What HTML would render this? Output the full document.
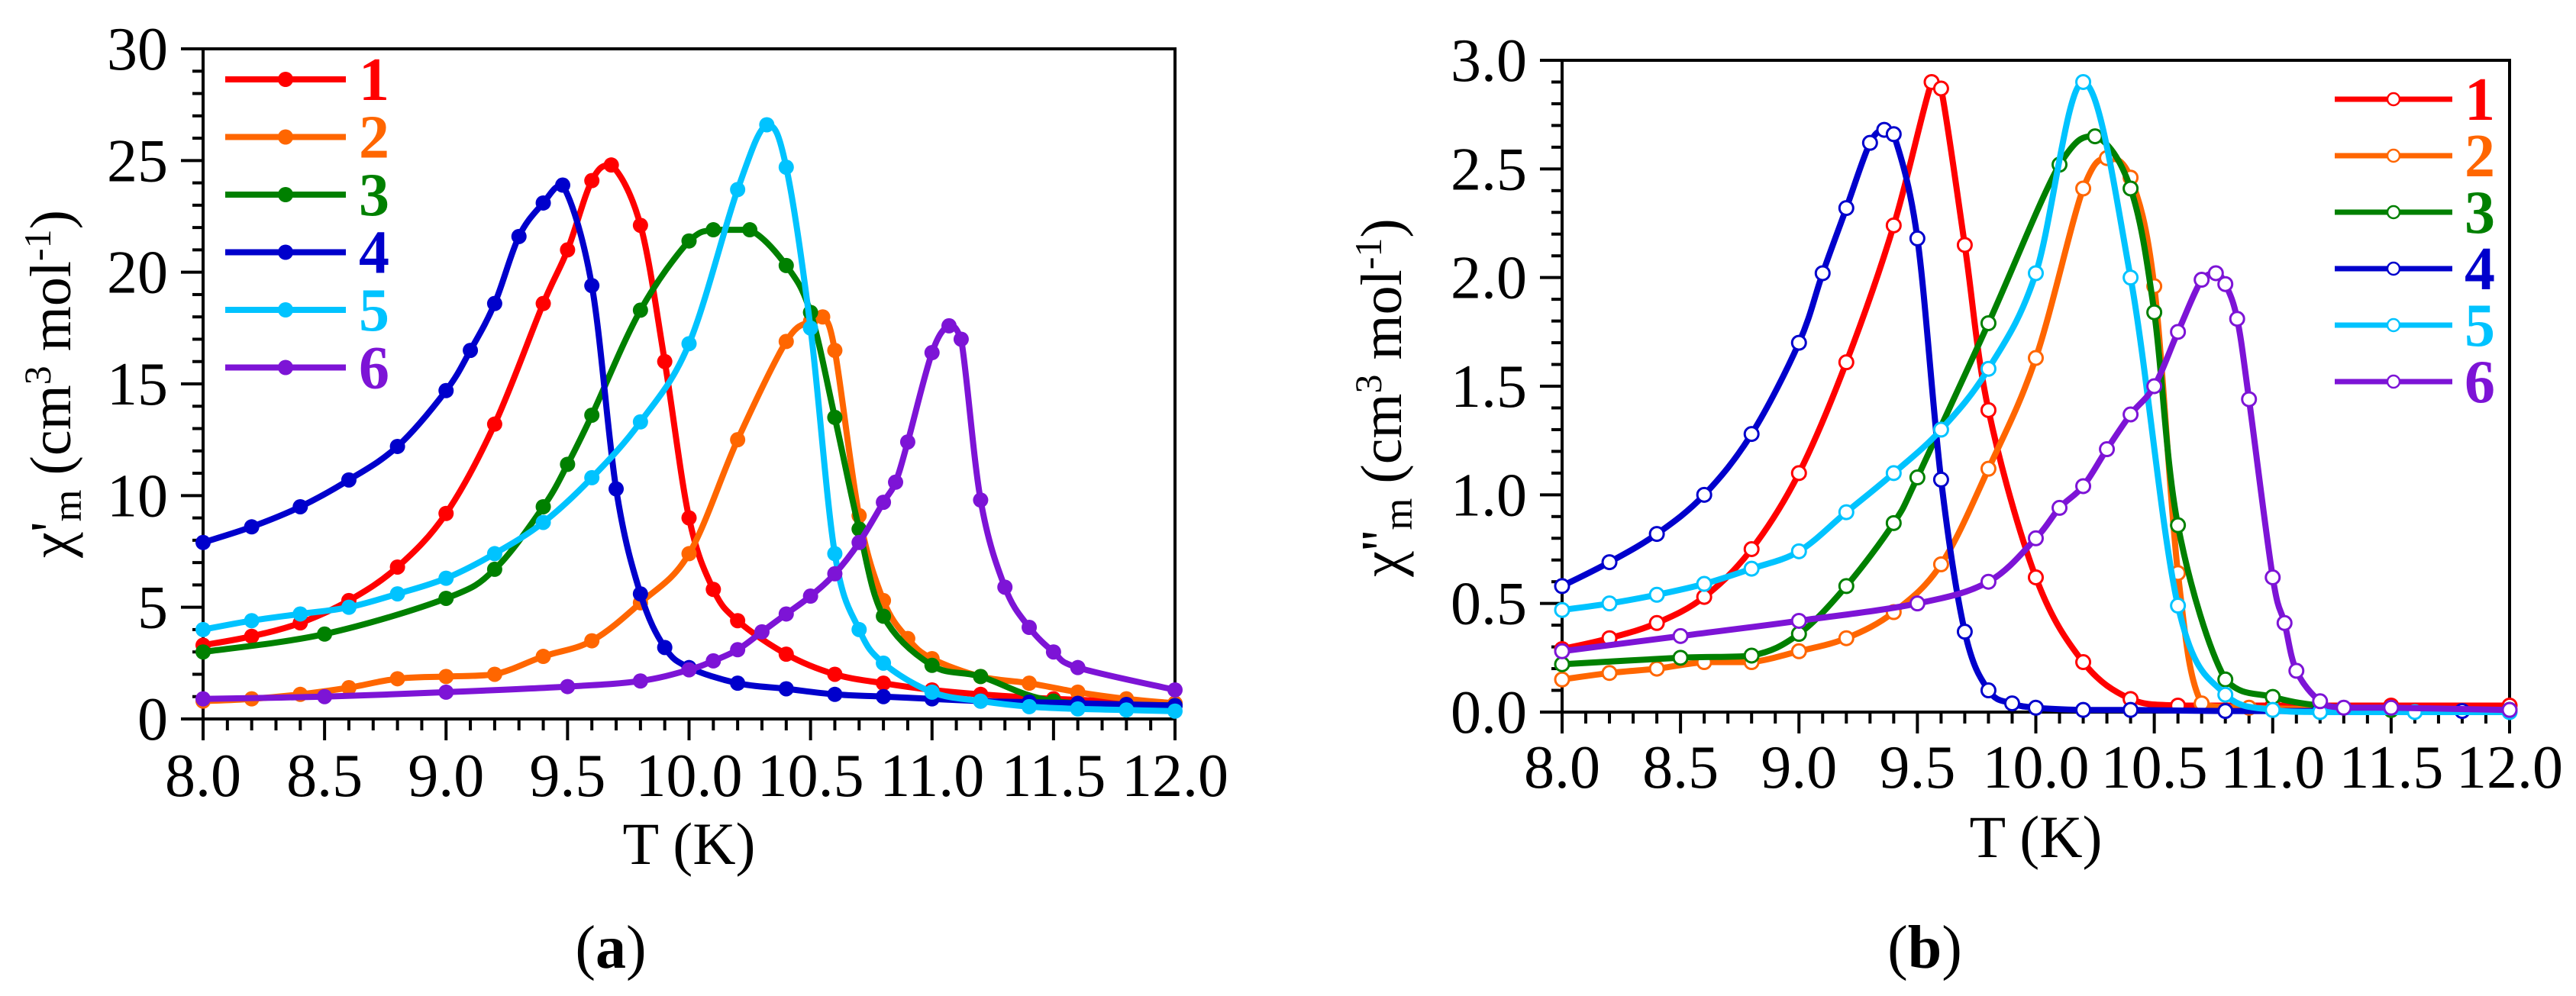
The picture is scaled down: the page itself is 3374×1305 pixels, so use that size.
<!DOCTYPE html>
<html><head><meta charset="utf-8"><style>
html,body{margin:0;padding:0;background:#fff;}
svg{display:block;}
svg text{font-family:"Liberation Serif","Times New Roman",Times,serif;}
</style></head>
<body>
<svg id="fig" width="3374" height="1305" viewBox="0 0 3374 1305" xmlns="http://www.w3.org/2000/svg" font-family="Liberation Serif, Times New Roman, serif">
<rect width="3374" height="1305" fill="#fff"/>
<g id="panelA"></g>
<g id="panelB"></g>
</svg>
<script>
// ---- shared ----
const seriesNames = ["1","2","3","4","5","6"];
const seriesColors = ["#ff0000","#ff6600","#008000","#0000cc","#00c3ff","#7d14d6"];
const xTicks = ["8.0","8.5","9.0","9.5","10.0","10.5","11.0","11.5","12.0"];
const yTicksA = ["0","5","10","15","20","25","30"];
const yTicksB = ["0.0","0.5","1.0","1.5","2.0","2.5","3.0"];

// ---- data (panel a: chi') ----
const a1T = [8.0,8.2,8.4,8.6,8.8,9.0,9.2,9.4,9.5,9.6,9.68,9.8,9.9,10.0,10.1,10.2,10.4,10.6,10.8,11.0,11.2,11.5,12.0];
const a1V = [3.3,3.7,4.3,5.3,6.8,9.2,13.2,18.6,21.0,24.1,24.8,22.1,16.0,9.0,5.8,4.4,2.9,2.0,1.6,1.3,1.1,0.9,0.7];
const a2T = [8.0,8.2,8.4,8.6,8.8,9.0,9.2,9.4,9.6,9.8,10.0,10.2,10.4,10.5,10.55,10.6,10.7,10.8,10.9,11.0,11.2,11.4,11.6,11.8,12.0];
const a2V = [0.8,0.9,1.1,1.4,1.8,1.9,2.0,2.8,3.5,5.2,7.4,12.5,16.9,17.8,18.0,16.5,9.1,5.3,3.6,2.7,1.9,1.6,1.2,0.9,0.7];
const a3T = [8.0,8.5,9.0,9.2,9.4,9.5,9.6,9.8,10.0,10.1,10.25,10.4,10.5,10.6,10.7,10.8,11.0,11.2,11.5,12.0];
const a3V = [3.0,3.8,5.4,6.7,9.5,11.4,13.6,18.3,21.4,21.9,21.9,20.3,18.2,13.5,8.5,4.6,2.4,1.9,0.8,0.6];
const a4T = [8.0,8.2,8.4,8.6,8.8,9.0,9.1,9.2,9.3,9.4,9.48,9.6,9.7,9.8,9.9,10.0,10.2,10.4,10.6,10.8,11.0,11.2,11.4,11.6,11.8,12.0];
const a4V = [7.9,8.6,9.5,10.7,12.2,14.7,16.5,18.6,21.6,23.1,23.9,19.4,10.3,5.6,3.2,2.3,1.6,1.35,1.1,1.0,0.9,0.8,0.75,0.7,0.65,0.6];
const a5T = [8.0,8.2,8.4,8.6,8.8,9.0,9.2,9.4,9.6,9.8,10.0,10.2,10.32,10.4,10.5,10.6,10.7,10.8,11.0,11.2,11.4,11.6,11.8,12.0];
const a5V = [4.0,4.4,4.7,5.0,5.6,6.3,7.4,8.8,10.8,13.3,16.8,23.7,26.6,24.7,17.5,7.4,4.0,2.5,1.2,0.8,0.55,0.45,0.4,0.35];
const a6T = [8.0,8.5,9.0,9.5,9.8,10.0,10.1,10.2,10.3,10.4,10.5,10.6,10.7,10.8,10.85,10.9,11.0,11.07,11.12,11.2,11.3,11.4,11.5,11.6,12.0];
const a6V = [0.9,1.0,1.2,1.45,1.7,2.2,2.6,3.1,3.9,4.7,5.5,6.5,7.9,9.7,10.6,12.4,16.4,17.6,17.0,9.8,5.9,4.1,3.0,2.3,1.3];

// ---- data (panel b: chi'') ----
const b1T = [8.0,8.2,8.4,8.6,8.8,9.0,9.2,9.4,9.56,9.6,9.7,9.8,10.0,10.2,10.4,10.6,11.0,11.5,12.0];
const b1V = [0.29,0.34,0.41,0.53,0.75,1.1,1.61,2.24,2.9,2.87,2.15,1.39,0.62,0.23,0.06,0.03,0.03,0.03,0.03];
const b2T = [8.0,8.2,8.4,8.6,8.8,9.0,9.2,9.4,9.6,9.8,10.0,10.2,10.3,10.4,10.5,10.6,10.7,10.9,11.5,12.0];
const b2V = [0.15,0.18,0.2,0.23,0.23,0.28,0.34,0.46,0.68,1.12,1.63,2.41,2.55,2.46,1.96,0.64,0.04,0.02,0.01,0.01];
const b3T = [8.0,8.5,8.8,9.0,9.2,9.4,9.5,9.8,10.1,10.25,10.4,10.5,10.6,10.8,11.0,11.2,11.5,12.0];
const b3V = [0.22,0.25,0.26,0.36,0.58,0.87,1.08,1.79,2.52,2.65,2.41,1.84,0.86,0.15,0.07,0.03,0.01,0.01];
const b4T = [8.0,8.2,8.4,8.6,8.8,9.0,9.1,9.2,9.3,9.36,9.4,9.5,9.6,9.7,9.8,9.9,10.0,10.2,10.4,10.8,11.2,11.8,12.0];
const b4V = [0.58,0.69,0.82,1.0,1.28,1.7,2.02,2.32,2.62,2.68,2.66,2.18,1.07,0.37,0.1,0.04,0.02,0.01,0.01,0.005,0.005,0.005,0.005];
const b5T = [8.0,8.2,8.4,8.6,8.8,9.0,9.2,9.4,9.6,9.8,10.0,10.2,10.4,10.6,10.8,11.0,11.2,11.6,12.0];
const b5V = [0.47,0.5,0.54,0.59,0.66,0.74,0.92,1.1,1.3,1.58,2.02,2.9,2.0,0.49,0.08,0.01,0.0,0.0,0.0];
const b6T = [8.0,8.5,9.0,9.5,9.8,10.0,10.1,10.2,10.3,10.4,10.5,10.6,10.7,10.76,10.8,10.85,10.9,11.0,11.05,11.1,11.2,11.3,11.5,12.0];
const b6V = [0.28,0.35,0.42,0.5,0.6,0.8,0.94,1.04,1.21,1.37,1.5,1.75,1.99,2.02,1.97,1.81,1.44,0.62,0.41,0.19,0.05,0.02,0.02,0.01];

const NS = "http://www.w3.org/2000/svg";
const FONT = "Liberation Serif, Times New Roman, serif";
function mk(tag, attrs, parent){
  const e = document.createElementNS(NS, tag);
  for (const k in attrs) e.setAttribute(k, attrs[k]);
  if (tag === "text") e.setAttribute("font-family", FONT);
  parent.appendChild(e);
  return e;
}
function clamp(v, a, b){ const lo = Math.min(a,b), hi = Math.max(a,b); return Math.max(lo, Math.min(hi, v)); }
function smoothPath(pts){
  let d = "M" + pts[0][0].toFixed(1) + "," + pts[0][1].toFixed(1);
  for (let i = 0; i < pts.length - 1; i++){
    const p0 = pts[Math.max(0,i-1)], p1 = pts[i], p2 = pts[i+1], p3 = pts[Math.min(pts.length-1,i+2)];
    const t = 0.17;
    const c1x = p1[0] + (p2[0]-p0[0])*t, c1y = clamp(p1[1] + (p2[1]-p0[1])*t, p1[1], p2[1]);
    const c2x = p2[0] - (p3[0]-p1[0])*t, c2y = clamp(p2[1] - (p3[1]-p1[1])*t, p1[1], p2[1]);
    d += " C" + c1x.toFixed(1)+","+c1y.toFixed(1)+" "+c2x.toFixed(1)+","+c2y.toFixed(1)+" "+p2[0].toFixed(1)+","+p2[1].toFixed(1);
  }
  return d;
}

function drawPanel(cfg){
  const g = document.getElementById(cfg.id);
  const L = cfg.L, R = cfg.R, T = cfg.T, B = cfg.B;
  const xs = v => L + (v - 8) / 4 * (R - L);
  const ys = v => B - v / cfg.ymax * (B - T);
  const frame = mk("rect", {x:L, y:T, width:R-L, height:B-T, fill:"none", stroke:"#000", "stroke-width":4}, g);
  
  
  for (let i = 0; i <= 40; i++){
    const v = 8 + i * 0.1;
    const major = i % 5 === 0;
    const tk = mk("line", {x1:xs(v), x2:xs(v), y1:B, y2:B + (major ? 28 : 15), stroke:"#000", "stroke-width":4}, g);
    
    
  }
  xTicks.forEach(s => {
    const t = mk("text", {x:xs(parseFloat(s)), y:B + cfg.xlabOff, "font-size":80, "text-anchor":"middle", fill:"#000"}, g);
    t.textContent = s;
    
    
  });
  const nMinor = 30;
  for (let i = 0; i <= nMinor; i++){
    const v = cfg.ymax * i / nMinor;
    const major = i % 5 === 0;
    const tk = mk("line", {x1:L - (major ? 29 : 14), x2:L, y1:ys(v), y2:ys(v), stroke:"#000", "stroke-width":4}, g);
    
    
  }
  cfg.yTicks.forEach(s => {
    const t = mk("text", {x:L - 46, y:ys(parseFloat(s)) + 27, "font-size":80, "text-anchor":"end", fill:"#000"}, g);
    t.textContent = s;
    
    
  });
  const xt = mk("text", {x:(L+R)/2, y:B + 190, "font-size":78, "text-anchor":"middle", fill:"#000"}, g);
  xt.textContent = "T (K)";
  
  
  const yt = mk("text", {transform:"translate(" + cfg.ytX + "," + cfg.ytY + ") rotate(-90)", "font-size":76, "text-anchor":"middle", fill:"#000"}, g);
  
  
  const sp1 = mk("tspan", {}, yt); sp1.textContent = cfg.chi;
  const sp2 = mk("tspan", {"font-size":54, dy:14}, yt); sp2.textContent = "m";
  const sp3 = mk("tspan", {dy:-14}, yt); sp3.textContent = " (cm";
  const sp4 = mk("tspan", {"font-size":50, dy:-26}, yt); sp4.textContent = "3";
  const sp5 = mk("tspan", {dy:26}, yt); sp5.textContent = " mol";
  const sp6 = mk("tspan", {"font-size":50, dy:-26}, yt); sp6.textContent = "-1";
  const sp7 = mk("tspan", {dy:26}, yt); sp7.textContent = ")";
  const pl = mk("text", {x:cfg.letterX, y:1268, "font-size":80, "text-anchor":"middle", fill:"#000"}, g);
  
  
  const q1 = mk("tspan", {}, pl); q1.textContent = "(";
  const q2 = mk("tspan", {"font-weight":"bold"}, pl); q2.textContent = cfg.letter;
  const q3 = mk("tspan", {}, pl); q3.textContent = ")";
  cfg.data.forEach((sd, k) => {
    const sg = mk("g", {}, g);
    
    
    const pts = sd[0].map((t, i) => [xs(t), ys(sd[1][i])]);
    const ln = mk("path", {d:smoothPath(pts), fill:"none", stroke:seriesColors[k], "stroke-width":8, "stroke-linejoin":"round", "stroke-linecap":"round"}, sg);
    
    
    pts.forEach(p => {
      const c = mk("circle", cfg.open
        ? {cx:p[0], cy:p[1], r:9, fill:"#fff", stroke:seriesColors[k], "stroke-width":3}
        : {cx:p[0], cy:p[1], r:10, fill:seriesColors[k]}, sg);
      
      
    });
  });
  const lg = mk("g", {}, g);
  
  
  seriesNames.forEach((nm, k) => {
    const y = cfg.legY + k * cfg.legDy;
    const eg = mk("g", {}, lg);
    
    
    mk("line", {x1:cfg.legX1, x2:cfg.legX2, y1:y, y2:y, stroke:seriesColors[k], "stroke-width":cfg.open ? 7 : 8}, eg);
    const mx = (cfg.legX1 + cfg.legX2) / 2;
    if (cfg.open) mk("circle", {cx:mx, cy:y, r:8, fill:"#fff", stroke:seriesColors[k], "stroke-width":2.5}, eg);
    else mk("circle", {cx:mx, cy:y, r:10, fill:seriesColors[k]}, eg);
    const t = mk("text", {x:cfg.legTX, y:y + 27, "font-size":80, "font-weight":"bold", fill:seriesColors[k]}, eg);
    t.textContent = nm;
  });
}

drawPanel({id:"panelA", L:266, R:1539, T:64, B:942, ymax:30, yTicks:yTicksA, xlabOff:101,
  ytX:92, ytY:503, chi:"\u03C7'", letter:"a", letterX:800, open:false,
  legX1:295, legX2:453, legTX:470, legY:104, legDy:75.5,
  data:[[a1T,a1V],[a2T,a2V],[a3T,a3V],[a4T,a4V],[a5T,a5V],[a6T,a6V]]});
drawPanel({id:"panelB", L:2046, R:3287, T:79, B:933, ymax:3, yTicks:yTicksB, xlabOff:99,
  ytX:1835, ytY:521, chi:"\u03C7''", letter:"b", letterX:2521, open:true,
  legX1:3058, legX2:3212, legTX:3228, legY:130, legDy:74,
  data:[[b1T,b1V],[b2T,b2V],[b3T,b3V],[b4T,b4V],[b5T,b5V],[b6T,b6V]]});
</script>
</body></html>
